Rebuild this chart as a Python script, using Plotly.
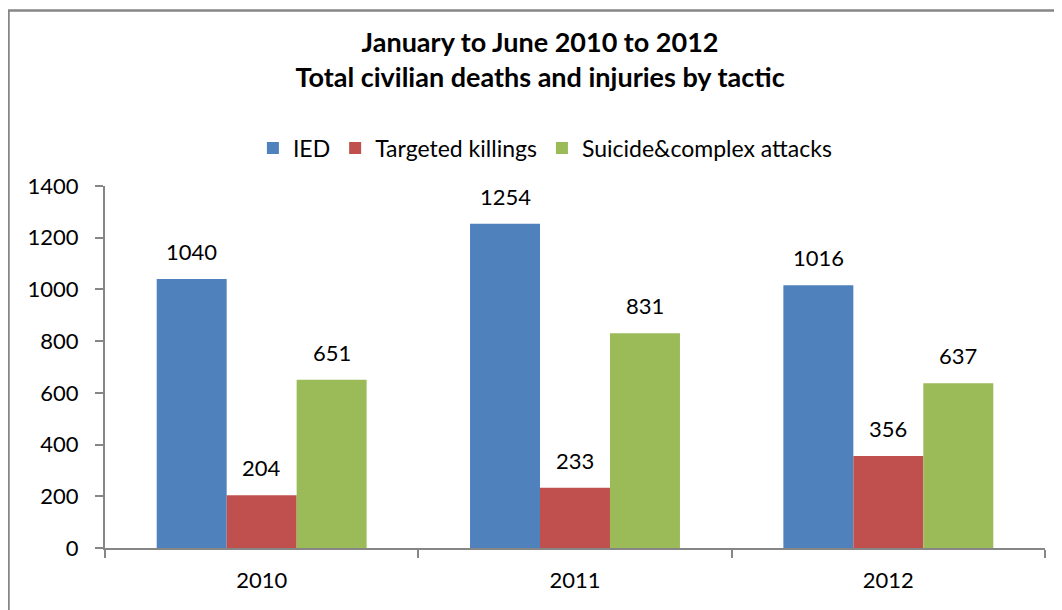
import plotly.graph_objects as go

years = ["2010", "2011", "2012"]
series_names = ["IED", "Targeted killings", "Suicide&complex attacks"]
ied = [1040, 1254, 1016]
targeted = [204, 233, 356]
suicide = [651, 831, 637]
colors = ["#4F81BD", "#C0504D", "#9BBB59"]
y_ticks = [0, 200, 400, 600, 800, 1000, 1200, 1400]

FONT = "Lato"
SZ = 22
L, R, T, B = 97, 25, 178, 70
PW, PH = 1062 - L - R, 610 - T - B

fig = go.Figure()
all_vals = [ied, targeted, suicide]
for name, vals, col in zip(series_names, all_vals, colors):
    fig.add_trace(go.Bar(x=years, y=vals, name=name, marker_color=col,
                         marker_line_width=0))

annotations = []
offsets = [-70, 0, 70]
for vals, off in zip(all_vals, offsets):
    for i, v in enumerate(vals):
        annotations.append(dict(x=i, y=v, xref="x", yref="y", text=str(v),
                                showarrow=False, xshift=off, yshift=12,
                                yanchor="bottom",
                                font=dict(family=FONT, size=SZ, color="black")))

fig.update_layout(
    width=1062, height=610,
    margin=dict(l=L, r=R, t=T, b=B),
    paper_bgcolor="white", plot_bgcolor="white",
    font=dict(family=FONT, size=SZ, color="black"),
    barmode="group", bargap=0.33, bargroupgap=0,
    title=dict(text="<b>January to June 2010 to 2012<br>Total civilian deaths and injuries by tactic</b>",
               x=0.501, xanchor="center", y=1 - 43.5 / 610, yanchor="middle", yref="container",
               font=dict(family=FONT, size=27, color="black")),
    legend=dict(orientation="h", x=0.468, xanchor="center", y=1.105, yanchor="middle",
                font=dict(family=FONT, size=23), traceorder="normal", itemwidth=30),
    annotations=annotations,
    xaxis=dict(type="category", range=[-0.5, 2.5], showline=True, linecolor="#868686",
               linewidth=2, ticks="outside",
               tickson="boundaries", ticklen=8, tickcolor="#868686", tickwidth=2,
               showgrid=False, tickfont=dict(family=FONT, size=SZ), automargin=False,
               tickangle=0, ticklabelstandoff=12),
    yaxis=dict(range=[0, 1400], tickvals=y_ticks, showline=True, linecolor="#868686",
               linewidth=2, ticks="outside", ticklen=8, tickcolor="#868686", tickwidth=2,
               showgrid=False, zeroline=False, tickfont=dict(family=FONT, size=SZ),
               automargin=False, ticklabelstandoff=12),
    shapes=[dict(type="rect", xref="paper", yref="paper",
                 x0=(0.5 - L) / PW, x1=1.2, y0=-0.4, y1=(PH + T - 2.5) / PH,
                 line=dict(color="#868686", width=2.5), fillcolor="rgba(0,0,0,0)")],
)

fig.write_html("out.html")
